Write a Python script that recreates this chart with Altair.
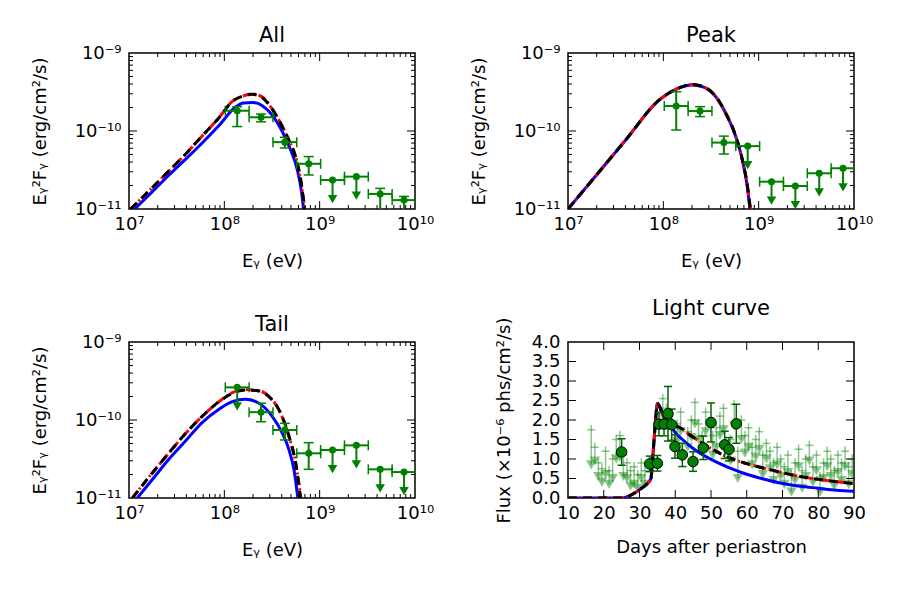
import altair as alt
import pandas as pd

W, H = 286, 156
GREEN = "#008000"
FONT = "DejaVu Sans"

# ---------------- SED data (energy bins in log10(E/eV), flux in erg/cm2/s) ----------------
SED_EDGES_LOGE = [8.01, 8.26, 8.51, 8.76, 9.01, 9.26, 9.51, 9.76, 10.01]

ALL_F = [1.82e-10, 1.50e-10, 7.2e-11, 3.8e-11, 2.35e-11, 2.6e-11, 1.56e-11, 1.30e-11]
ALL_HI = [2.05e-10, 1.65e-10, 8.3e-11, 4.7e-11, None, None, 1.84e-11, 1.45e-11]
ALL_LO = [1.14e-10, 1.31e-10, 6.05e-11, 2.73e-11, None, None, 5e-12, 5e-12]
ALL_UL = [0, 0, 0, 0, 1, 1, 0, 0]

PEAK_F = [2.09e-10, 1.80e-10, 7.1e-11, 6.4e-11, 2.24e-11, 1.97e-11, 2.87e-11, 3.33e-11]
PEAK_HI = [3.19e-10, 2.05e-10, 8.6e-11, None, None, None, None, None]
PEAK_LO = [1.03e-10, 1.53e-10, 5.07e-11, None, None, None, None, None]
PEAK_UL = [0, 0, 0, 1, 1, 1, 1, 1]

TAIL_F = [2.62e-10, 1.26e-10, 7.45e-11, 3.74e-11, 4.12e-11, 4.73e-11, 2.33e-11, 2.15e-11]
TAIL_HI = [None, 1.64e-10, 9.06e-11, 5.12e-11, None, None, None, None]
TAIL_LO = [None, 9.5e-11, 5.55e-11, 2.33e-11, None, None, None, None]
TAIL_UL = [1, 0, 0, 0, 1, 1, 1, 1]

# model curves: log10(E/eV), log10(E^2 F)
ALL_BLUE_LOGE = [7.06, 7.245, 7.42, 7.595, 7.77, 7.944, 8.12, 8.20, 8.30, 8.399, 8.504, 8.609, 8.696, 8.766, 8.812, 8.835]
ALL_BLUE_LOGF = [-11.0, -10.778, -10.564, -10.36, -10.15, -9.93, -9.69, -9.64, -9.635, -9.675, -9.80, -10.01, -10.244, -10.5, -10.8, -11.05]
ALL_BLACK_LOGE = [7.018, 7.245, 7.42, 7.595, 7.77, 7.944, 8.084, 8.189, 8.294, 8.399, 8.504, 8.609, 8.679, 8.749, 8.801, 8.847]
ALL_BLACK_LOGF = [-11.0, -10.726, -10.51, -10.295, -10.06, -9.83, -9.62, -9.555, -9.53, -9.573, -9.722, -9.945, -10.124, -10.337, -10.628, -11.05]
ALL_RED_LOGE = [7.018, 7.245, 7.42, 7.595, 7.77, 7.944, 8.084, 8.189, 8.30, 8.405, 8.504, 8.609, 8.679, 8.749, 8.801, 8.85]
ALL_RED_LOGF = [-11.0, -10.726, -10.51, -10.295, -10.06, -9.83, -9.62, -9.555, -9.525, -9.57, -9.722, -9.945, -10.124, -10.337, -10.628, -11.05]

PEAK_BLUE_LOGE = [7.0, 7.255, 7.605, 7.955, 8.13, 8.304, 8.409, 8.549, 8.654, 8.76, 8.829, 8.881, 8.91]
PEAK_BLUE_LOGF = [-11.0, -10.628, -10.115, -9.603, -9.466, -9.41, -9.432, -9.56, -9.773, -10.073, -10.372, -10.714, -11.02]
PEAK_BLACK_LOGE = [7.0, 7.255, 7.605, 7.955, 8.13, 8.304, 8.409, 8.549, 8.654, 8.76, 8.829, 8.883, 8.915]
PEAK_BLACK_LOGF = [-11.0, -10.628, -10.115, -9.603, -9.466, -9.405, -9.428, -9.555, -9.77, -10.07, -10.37, -10.714, -11.02]
PEAK_RED_LOGE = [7.0, 7.255, 7.605, 7.955, 8.13, 8.304, 8.409, 8.549, 8.654, 8.76, 8.829, 8.883, 8.915]
PEAK_RED_LOGF = [-11.0, -10.628, -10.115, -9.603, -9.466, -9.405, -9.428, -9.555, -9.77, -10.07, -10.37, -10.714, -11.02]

TAIL_BLUE_LOGE = [7.087, 7.245, 7.42, 7.595, 7.77, 7.944, 8.084, 8.224, 8.364, 8.504, 8.609, 8.679, 8.731, 8.773]
TAIL_BLUE_LOGF = [-11.0, -10.763, -10.5, -10.265, -10.03, -9.863, -9.765, -9.735, -9.786, -9.957, -10.171, -10.385, -10.641, -11.02]
TAIL_BLACK_LOGE = [7.035, 7.245, 7.42, 7.595, 7.77, 7.944, 8.084, 8.224, 8.364, 8.486, 8.574, 8.679, 8.749, 8.801]
TAIL_BLACK_LOGF = [-11.0, -10.679, -10.42, -10.171, -9.95, -9.765, -9.658, -9.615, -9.628, -9.722, -9.872, -10.214, -10.556, -11.02]
TAIL_RED_LOGE = [7.035, 7.245, 7.42, 7.595, 7.77, 7.944, 8.084, 8.224, 8.364, 8.486, 8.574, 8.679, 8.749, 8.805]
TAIL_RED_LOGF = [-11.0, -10.679, -10.42, -10.171, -9.95, -9.765, -9.65, -9.61, -9.625, -9.72, -9.872, -10.214, -10.556, -11.02]

# ---------------- Light curve data ----------------
LC_DAY = [25.0, 32.85, 35.0, 35.45, 36.85, 37.97, 39.0, 39.93, 41.98, 44.97, 47.85, 50.0, 53.83, 55.03, 57.08]
LC_FLUX = [1.18, 0.875, 0.89, 1.895, 1.895, 2.16, 1.88, 1.32, 1.106, 0.934, 1.286, 1.937, 1.363, 1.25, 1.904]
LC_ERR = [0.34, 0.2, 0.2, 0.3, 0.3, 0.7, 0.4, 0.3, 0.3, 0.25, 0.3, 0.5, 0.35, 0.3, 0.5]

LC_UL_DAY = [16.5, 17.5, 18.5, 19.5, 20.5, 21.5, 22.5, 23.5, 24.5, 25.5, 26.5, 27.5, 28.5, 29.5, 30.5, 31.5,
             36.5, 37.5, 40.5, 41.5, 43.5, 44.5, 45.5, 46.5, 47.5, 48.5, 50.5, 51.5, 52.5, 53.5, 55.5, 56.5,
             57.5, 58.5, 59.5, 60.5, 61.5, 62.5, 63.5, 64.5, 65.5, 66.5, 67.5, 68.5, 69.5, 70.5, 71.5, 72.5,
             73.5, 74.5, 75.5, 76.5, 77.5, 78.5, 79.5, 80.5, 81.5, 82.5, 83.5, 84.5, 85.5, 86.5, 87.5, 88.5, 89.5]
LC_UL_TOP = [1.75, 1.3, 0.9, 0.75, 1.2, 0.7, 1.0, 1.5, 1.6, 1.1, 0.9, 0.7, 0.8, 0.6, 0.9, 0.7,
             2.55, 2.3, 1.9, 2.2, 1.7, 2.0, 2.45, 1.9, 1.6, 2.2, 1.6, 1.8, 2.1, 2.3, 1.5, 2.4,
             1.2, 2.0, 1.6, 1.8, 1.3, 1.5, 1.7, 1.1, 1.4, 1.2, 0.9, 1.3, 1.0, 0.8, 1.1, 0.6,
             0.9, 1.25, 0.7, 1.0, 1.35, 0.8, 1.1, 0.55, 0.9, 1.2, 1.0, 0.7, 1.1, 0.9, 1.2, 0.8, 1.0]
LC_UL_LOW = [0.85, 0.95, 0.55, 0.4, 0.6, 0.35, 0.5, 1.0, 1.05, 0.55, 0.5, 0.3, 0.35, 0.25, 0.5, 0.35,
             2.1, 1.85, 1.45, 1.7, 1.3, 1.55, 1.9, 1.5, 1.25, 1.7, 1.1, 1.3, 1.6, 1.75, 0.95, 1.85,
             0.5, 1.5, 1.15, 1.3, 0.85, 1.05, 1.25, 0.6, 1.0, 0.75, 0.45, 0.85, 0.55, 0.35, 0.65, 0.15,
             0.45, 0.8, 0.25, 0.55, 0.95, 0.4, 0.7, 0.15, 0.5, 0.8, 0.55, 0.3, 0.65, 0.45, 0.8, 0.35, 0.6]

LC_BLUE_DAY = [10, 25.0, 27.0, 29.0, 31.0, 32.5, 33.2, 33.6, 34.0, 34.5, 35.0, 37.3, 38.7, 40.0, 42.0, 45.0, 50.0, 55.0,
               60.0, 65.0, 70.0, 75.0, 80.0, 85.0, 90.0]
LC_BLUE_FLUX = [0.0, 0.0, 0.05, 0.15, 0.28, 0.4, 0.5, 0.9, 1.4, 2.0, 2.42, 2.0, 1.85, 1.68, 1.5, 1.27, 0.99, 0.78,
                0.61, 0.48, 0.37, 0.3, 0.25, 0.2, 0.17]
LC_BLACK_DAY = [10, 25.0, 27.0, 29.0, 31.0, 32.5, 33.2, 33.6, 34.0, 34.5, 35.0, 36.0, 37.0, 38.5, 40.0, 42.0, 44.0,
                46.0, 48.0, 50.0, 53.0, 56.0, 60.0, 65.0, 70.0, 75.0, 80.0, 85.0, 90.0]
LC_BLACK_FLUX = [0.0, 0.0, 0.05, 0.15, 0.28, 0.4, 0.5, 0.9, 1.4, 2.0, 2.42, 2.25, 2.05, 1.92, 1.86, 1.77, 1.62,
                 1.5, 1.38, 1.27, 1.12, 1.0, 0.88, 0.76, 0.65, 0.55, 0.48, 0.42, 0.37]
LC_RED_DAY = [10, 25.0, 27.0, 29.0, 31.0, 32.5, 33.2, 33.6, 34.0, 34.5, 35.0, 36.0, 37.0, 38.5, 40.0, 42.0, 44.0,
              46.0, 48.0, 50.0, 53.0, 56.0, 60.0, 65.0, 70.0, 75.0, 80.0, 85.0, 90.0]
LC_RED_FLUX = [0.0, 0.0, 0.05, 0.15, 0.28, 0.4, 0.5, 0.9, 1.4, 2.0, 2.42, 2.25, 2.05, 1.92, 1.86, 1.77, 1.62,
               1.5, 1.38, 1.27, 1.12, 1.0, 0.88, 0.76, 0.65, 0.55, 0.48, 0.42, 0.37]

# ---------------- helpers ----------------
X_LOG_LABELS = "datum.value < 3e7 ? '10⁷' : datum.value < 3e8 ? '10⁸' : datum.value < 3e9 ? '10⁹' : '10¹⁰'"
Y_LOG_LABELS = "datum.value < 3e-11 ? '10⁻¹¹' : datum.value < 3e-10 ? '10⁻¹⁰' : '10⁻⁹'"
RED_DASH = [8, 3, 2, 3]
BLACK_DASH = [9, 6]


def panel_title(text):
    return alt.TitleParams(text, font=FONT, fontSize=21, fontWeight="normal", anchor="middle",
                           offset=-2, color="black")


def make_axis(title, values, orient, expr=None, fmt=None, title_off=None):
    kw = dict(title=title, values=values, ticks=False, domain=False, grid=False,
              labelFlush=False, labelOverlap=False, labelFont=FONT, labelFontSize=18,
              labelColor="black", titleFont=FONT, titleFontSize=18, titleFontWeight="normal",
              titleColor="black")
    if expr:
        kw["labelExpr"] = expr
    if fmt:
        kw["format"] = fmt
    if orient == "x":
        kw.update(labelPadding=6, titleY=title_off, titleBaseline="alphabetic")
    else:
        kw.update(labelPadding=8, titleX=title_off, titleY=H / 2, titleAngle=270,
                  titleBaseline="alphabetic", titleAlign="center")
    return alt.Axis(**kw)


def tick_layers(Xf, Yf, xmaj, xmin, ymaj, ymin):
    layers = []
    for vals, ln in ((xmaj, 8), (xmin, 4)):
        if not vals:
            continue
        d = pd.DataFrame({"x": vals})
        b = alt.Chart(d).mark_rule(color="black", strokeWidth=1)
        layers.append(b.encode(x=Xf("x"), y=alt.value(0), y2=alt.value(ln)))
        layers.append(b.encode(x=Xf("x"), y=alt.value(H), y2=alt.value(H - ln)))
    for vals, ln in ((ymaj, 8), (ymin, 4)):
        if not vals:
            continue
        d = pd.DataFrame({"y": vals})
        b = alt.Chart(d).mark_rule(color="black", strokeWidth=1)
        layers.append(b.encode(y=Yf("y"), x=alt.value(0), x2=alt.value(ln)))
        layers.append(b.encode(y=Yf("y"), x=alt.value(W), x2=alt.value(W - ln)))
    return layers


def line_df(logx, logy):
    return pd.DataFrame({"x": [10 ** v for v in logx], "y": [10 ** v for v in logy], "o": list(range(len(logx)))})


def sed_panel(title, F, HI, LO, UL, blue, black, red):
    xs = alt.Scale(type="log", domain=[1e7, 1e10], nice=False)
    ys = alt.Scale(type="log", domain=[1e-11, 1e-9], nice=False)
    xax = make_axis("Eᵧ (eV)", [1e7, 1e8, 1e9, 1e10], "x", expr=X_LOG_LABELS, title_off=57)
    yax = make_axis("Eᵧ²Fᵧ (erg/cm²/s)", [1e-11, 1e-10, 1e-9], "y", expr=Y_LOG_LABELS, title_off=-84)

    def Xf(f):
        return alt.X(f, type="quantitative", scale=xs, axis=xax)

    def Yf(f):
        return alt.Y(f, type="quantitative", scale=ys, axis=yax)

    layers = []
    for (lx, ly), col, dash in ((blue, "#0000ff", None), (red, "#ff0000", RED_DASH), (black, "black", BLACK_DASH)):
        kw = dict(color=col, strokeWidth=3, clip=True, interpolate="monotone")
        if dash:
            kw["strokeDash"] = dash
        layers.append(alt.Chart(line_df(lx, ly)).mark_line(**kw).encode(x=Xf("x"), y=Yf("y"), order="o:Q"))

    rows = []
    for i in range(len(F)):
        lo, hi = SED_EDGES_LOGE[i], SED_EDGES_LOGE[i + 1]
        rows.append(dict(x=10 ** ((lo + hi) / 2), xlo=10 ** lo, xhi=10 ** hi, y=F[i],
                         ylo=LO[i], yhi=HI[i], ul=UL[i], yarr=F[i] * 0.57))
    d = pd.DataFrame(rows)
    det = d[d.ul == 0]
    uls = d[d.ul == 1]
    base = dict(color=GREEN, clip=True)
    layers.append(alt.Chart(d).mark_rule(strokeWidth=2, **base).encode(x=Xf("xlo"), x2="xhi", y=Yf("y")))
    caps_x = pd.DataFrame({"x": list(d.xlo) + list(d.xhi), "y": list(d.y) * 2})
    layers.append(alt.Chart(caps_x).mark_tick(orient="vertical", size=10, thickness=1.5, opacity=1, **base)
                  .encode(x=Xf("x"), y=Yf("y")))
    if len(det):
        layers.append(alt.Chart(det).mark_rule(strokeWidth=2, **base).encode(x=Xf("x"), y=Yf("ylo"), y2="yhi"))
        caps_y = pd.DataFrame({"x": list(det.x) * 2, "y": list(det.ylo) + list(det.yhi)})
        layers.append(alt.Chart(caps_y).mark_tick(orient="horizontal", size=10, thickness=1.5, opacity=1, **base)
                      .encode(x=Xf("x"), y=Yf("y")))
    if len(uls):
        layers.append(alt.Chart(uls).mark_rule(strokeWidth=2, **base).encode(x=Xf("x"), y=Yf("y"), y2="yarr"))
        layers.append(alt.Chart(uls).mark_point(shape="triangle-down", filled=True, size=90, opacity=1, **base)
                      .encode(x=Xf("x"), y=Yf("yarr")))
    layers.append(alt.Chart(d).mark_circle(size=50, opacity=1, **base).encode(x=Xf("x"), y=Yf("y")))

    xmin = [k * 10 ** e for e in (7, 8, 9) for k in range(2, 10)]
    ymin = [k * 10 ** e for e in (-11, -10) for k in range(2, 10)]
    layers += tick_layers(Xf, Yf, [1e8, 1e9], xmin, [1e-10], ymin)
    return alt.layer(*layers).properties(width=W, height=H, title=panel_title(title))


def lc_panel():
    xs = alt.Scale(domain=[10, 90], nice=False)
    ys = alt.Scale(domain=[0, 4], nice=False)
    xax = make_axis("Days after periastron", list(range(10, 91, 10)), "x", fmt="d", title_off=54)
    yax = make_axis("Flux (×10⁻⁶ phs/cm²/s)", [i * 0.5 for i in range(9)], "y", fmt=".1f", title_off=-59)

    def Xf(f):
        return alt.X(f, type="quantitative", scale=xs, axis=xax)

    def Yf(f):
        return alt.Y(f, type="quantitative", scale=ys, axis=yax)

    layers = []
    u = pd.DataFrame({"x": LC_UL_DAY, "top": LC_UL_TOP, "low": LC_UL_LOW})
    u["top2"] = u["top"] + 0.12
    ub = dict(color=GREEN, opacity=0.45, clip=True)
    layers.append(alt.Chart(u).mark_rule(strokeWidth=1.5, **ub).encode(x=Xf("x"), y=Yf("low"), y2="top2"))
    layers.append(alt.Chart(u).mark_tick(orient="horizontal", size=8, thickness=1.5, **ub).encode(x=Xf("x"), y=Yf("top")))
    layers.append(alt.Chart(u).mark_point(shape="triangle-down", filled=True, size=110, **ub).encode(x=Xf("x"), y=Yf("low")))

    for dx, fy, col, dash in ((LC_BLUE_DAY, LC_BLUE_FLUX, "#0000ff", None),
                              (LC_RED_DAY, LC_RED_FLUX, "#ff0000", RED_DASH),
                              (LC_BLACK_DAY, LC_BLACK_FLUX, "black", BLACK_DASH)):
        kw = dict(color=col, strokeWidth=3, clip=True, interpolate="monotone")
        if dash:
            kw["strokeDash"] = dash
        dd = pd.DataFrame({"x": dx, "y": fy, "o": list(range(len(dx)))})
        layers.append(alt.Chart(dd).mark_line(**kw).encode(x=Xf("x"), y=Yf("y"), order="o:Q"))

    p = pd.DataFrame({"x": LC_DAY, "y": LC_FLUX, "e": LC_ERR})
    p["lo"] = p.y - p.e
    p["hi"] = p.y + p.e
    pb = dict(color="#006400", clip=True)
    layers.append(alt.Chart(p).mark_rule(strokeWidth=1.5, **pb).encode(x=Xf("x"), y=Yf("lo"), y2="hi"))
    caps = pd.DataFrame({"x": list(p.x) * 2, "y": list(p.lo) + list(p.hi)})
    layers.append(alt.Chart(caps).mark_tick(orient="horizontal", size=8, thickness=1.5, opacity=1, **pb)
                  .encode(x=Xf("x"), y=Yf("y")))
    layers.append(alt.Chart(p).mark_point(shape="circle", filled=True, size=110, opacity=1, color=GREEN,
                                          stroke="black", strokeWidth=1, clip=True)
                  .encode(x=Xf("x"), y=Yf("y")))

    layers += tick_layers(Xf, Yf, list(range(20, 90, 10)), [], [i * 0.5 for i in range(1, 8)], [])
    return alt.layer(*layers).properties(width=W, height=H, title=panel_title("Light curve"))


p_all = sed_panel("All", ALL_F, ALL_HI, ALL_LO, ALL_UL,
                  (ALL_BLUE_LOGE, ALL_BLUE_LOGF), (ALL_BLACK_LOGE, ALL_BLACK_LOGF), (ALL_RED_LOGE, ALL_RED_LOGF))
p_peak = sed_panel("Peak", PEAK_F, PEAK_HI, PEAK_LO, PEAK_UL,
                   (PEAK_BLUE_LOGE, PEAK_BLUE_LOGF), (PEAK_BLACK_LOGE, PEAK_BLACK_LOGF), (PEAK_RED_LOGE, PEAK_RED_LOGF))
p_tail = sed_panel("Tail", TAIL_F, TAIL_HI, TAIL_LO, TAIL_UL,
                   (TAIL_BLUE_LOGE, TAIL_BLUE_LOGF), (TAIL_BLACK_LOGE, TAIL_BLACK_LOGF), (TAIL_RED_LOGE, TAIL_RED_LOGF))
p_lc = lc_panel()

chart = (
    alt.concat(p_all, p_peak, p_tail, p_lc, columns=2, spacing={"row": 133, "column": 153}, bounds="flush")
    .properties(padding={"left": 30, "top": 24, "right": 10, "bottom": 10}, background="white")
    .configure(font=FONT)
    .configure_view(stroke="black", strokeWidth=1.5)
)

chart.save("out.html", embed_options={"renderer": "svg", "actions": False})
